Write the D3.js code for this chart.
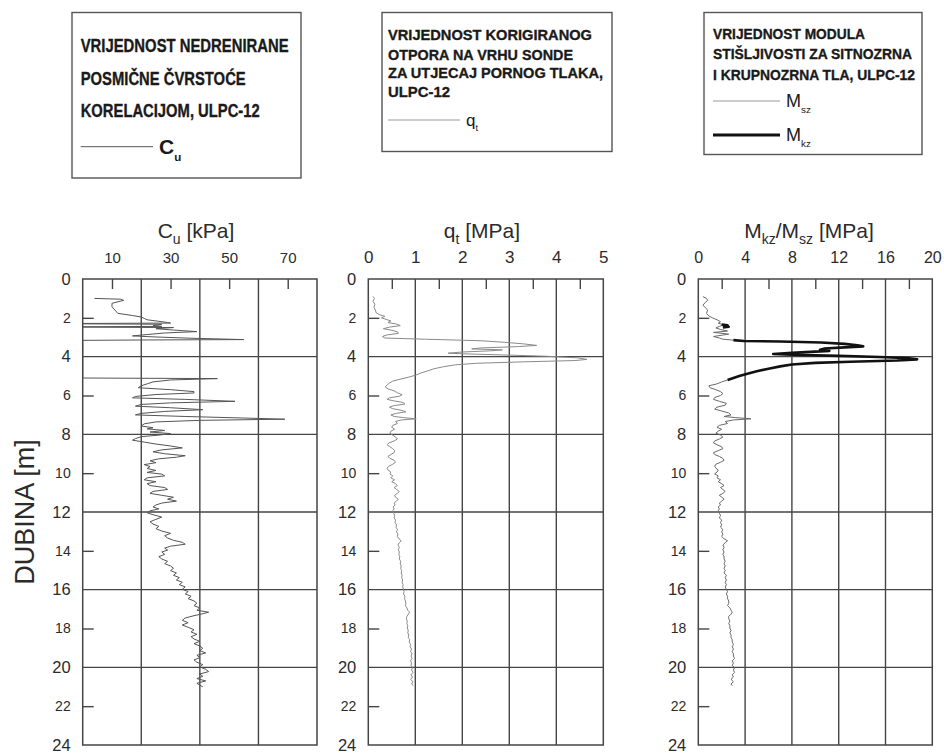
<!DOCTYPE html>
<html>
<head>
<meta charset="utf-8">
<script src="https://cdn.jsdelivr.net/npm/d3@7"></script>
<style>
  body { margin: 0; background: #fff; }
  svg { display: block; }
</style>
</head>
<body>
<div id="chart"></div>
<script>
// Depth axis (m)
const depthLabels = [0, 2, 4, 6, 8, 10, 12, 14, 16, 18, 20, 22, 24];
const depthMinorTicks = [2, 6, 10, 14, 18, 22];
const depthGrid = [4, 8, 12, 16, 20];

// Top axes
const cuLabels = [10, 30, 50, 70];
const cuTicks = [10, 30, 50, 70];
const cuGrid = [20, 40, 60];
const qtLabels = [0, 1, 2, 3, 4, 5];
const qtTicks = [0.5, 1.5, 2.5, 3.5, 4.5];
const qtGrid = [1, 2, 3, 4];
const mLabels = [0, 4, 8, 12, 16, 20];
const mTicks = [2, 6, 10, 14, 18];
const mGrid = [4, 8, 12, 16];

// Legend texts
const cuLegendLines = ["VRIJEDNOST NEDRENIRANE", "POSMIČNE ČVRSTOĆE", "KORELACIJOM, ULPC-12"];
const qtLegendLines = ["VRIJEDNOST KORIGIRANOG", "OTPORA NA VRHU SONDE", "ZA UTJECAJ PORNOG TLAKA,", "ULPC-12"];
const mLegendLines = ["VRIJEDNOST MODULA", "STIŠLJIVOSTI ZA SITNOZRNA", "I KRUPNOZRNA TLA, ULPC-12"];

// [depth m, Cu kPa]
const cuProfile = [
  [1.00,4],[1.04,13],[1.10,14],[1.25,10],[1.43,10],[1.60,11],[1.77,12],[1.88,17],[1.96,20],[2.03,21],
  [2.10,22],[2.18,26],[2.24,29],[2.27,30],[2.29,0],[2.31,0],[2.33,27],[2.40,24],[2.44,27],[2.46,0],
  [2.48,0],[2.50,31],[2.56,25],[2.63,31],[2.71,39],[2.78,28],[2.86,22],[2.93,17],[2.98,24],[3.05,37],
  [3.12,55],[3.14,22],[3.16,0],[5.10,0],[5.13,46],[5.20,30],[5.30,24],[5.40,22],[5.50,20],[5.60,19],
  [5.70,30],[5.80,38],[5.87,38],[5.95,25],[6.05,18],[6.12,17],[6.20,35],[6.30,52],[6.38,30],[6.46,20],
  [6.55,18],[6.63,30],[6.73,41],[6.82,28],[6.92,20],[7.00,18],[7.08,35],[7.16,55],[7.22,69],[7.28,40],
  [7.36,25],[7.46,21],[7.57,20],[7.66,24],[7.72,22],[7.80,28],[7.88,23],[7.96,30],[8.04,26],[8.12,20],
  [8.22,18],[8.30,17],[8.40,21],[8.50,25],[8.60,30],[8.70,34],[8.80,27],[8.90,24],
  [9.00,28],[9.10,35],[9.18,32],[9.26,26],[9.36,23],[9.46,25],[9.56,21],[9.66,23],[9.76,22],[9.86,25],
  [9.96,22],[10.05,27],[10.14,28],[10.24,22],[10.34,21],[10.44,25],[10.54,22],[10.64,23],[10.74,28],[10.84,29],
  [10.94,24],[11.04,23],[11.14,27],[11.24,31],[11.34,29],[11.44,32],[11.54,27],[11.64,25],[11.74,24],[11.84,26],
  [11.94,23],[12.04,22],[12.14,24],[12.26,27],[12.38,25],[12.50,23],[12.62,24],[12.74,26],[12.86,25],[12.98,27],
  [13.10,30],[13.22,28],[13.34,29],[13.46,31],[13.56,34],[13.66,35],[13.76,30],[13.86,28],[13.96,29],[14.06,27],
  [14.18,28],[14.30,26],[14.42,27],[14.54,29],[14.66,28],[14.78,30],[14.90,31],[15.02,30],[15.14,32],[15.26,31],
  [15.38,33],[15.50,32],[15.62,34],[15.74,33],[15.86,35],[15.98,34],[16.10,36],[16.22,35],[16.34,37],[16.46,36],
  [16.58,38],[16.70,39],[16.82,38],[16.94,40],[17.06,39],[17.16,43],[17.24,41],[17.34,38],[17.46,35],[17.58,34],
  [17.70,36],[17.82,34],[17.94,36],[18.06,38],[18.18,37],[18.30,39],[18.42,37],[18.54,38],[18.66,40],[18.78,38],
  [18.90,40],[19.02,41],[19.14,40],[19.26,42],[19.38,39],[19.50,40],[19.62,38],[19.74,39],[19.86,41],[19.98,40],
  [20.10,42],[20.22,43],[20.34,40],[20.46,41],[20.58,39],[20.70,42],[20.82,39],[20.92,40],[21.00,41]
];

// [depth m, qt MPa]
const qtProfile = [
  [0.90,0.10],[1.00,0.13],[1.15,0.10],[1.30,0.14],[1.45,0.12],[1.60,0.15],[1.75,0.17],[1.85,0.25],[1.92,0.35],[2.00,0.28],
  [2.08,0.38],[2.16,0.48],[2.24,0.42],[2.32,0.60],[2.40,0.68],[2.48,0.45],[2.56,0.32],[2.64,0.50],[2.72,0.62],[2.80,0.64],
  [2.88,0.40],[2.96,0.30],[3.04,0.35],[3.10,1.20],[3.18,2.40],[3.26,2.90],[3.34,3.30],[3.42,3.58],[3.48,3.20],[3.55,2.40],
  [3.60,2.20],[3.65,2.85],[3.70,2.60],[3.76,2.00],[3.82,1.70],[3.86,2.10],[3.92,3.00],[3.98,3.80],[4.06,4.45],[4.14,4.65],
  [4.20,4.40],[4.26,3.40],[4.34,2.30],[4.42,1.85],[4.52,1.60],[4.62,1.40],[4.74,1.25],[4.86,1.10],[4.96,1.00],[5.06,0.85],
  [5.16,0.68],[5.26,0.52],[5.36,0.45],[5.46,0.40],[5.56,0.36],[5.66,0.42],[5.76,0.55],[5.86,0.62],[5.96,0.72],[6.04,0.66],
  [6.12,0.45],[6.20,0.40],[6.28,0.55],[6.36,0.74],[6.44,0.78],[6.52,0.55],[6.60,0.45],[6.68,0.52],[6.76,0.70],[6.84,0.80],
  [6.92,0.60],[7.00,0.48],[7.08,0.55],[7.14,0.75],[7.20,1.02],[7.26,0.70],[7.34,0.58],[7.44,0.62],[7.54,0.52],[7.64,0.50],
  [7.74,0.56],[7.84,0.48],[7.94,0.46],[8.04,0.52],[8.14,0.58],[8.24,0.62],[8.34,0.55],[8.44,0.44],[8.54,0.40],[8.64,0.46],
  [8.74,0.52],[8.84,0.56],[8.94,0.55],[9.04,0.48],[9.14,0.42],[9.24,0.46],[9.34,0.55],[9.44,0.58],[9.54,0.52],[9.64,0.44],
  [9.74,0.40],[9.84,0.42],[9.94,0.48],[10.04,0.46],[10.14,0.52],[10.24,0.48],[10.34,0.56],[10.44,0.50],[10.54,0.58],[10.64,0.62],
  [10.74,0.55],[10.84,0.60],[10.94,0.66],[11.04,0.62],[11.14,0.56],[11.24,0.58],[11.34,0.64],[11.44,0.60],[11.54,0.55],[11.64,0.57],
  [11.74,0.53],[11.84,0.55],[11.94,0.52],[12.06,0.54],[12.18,0.56],[12.30,0.55],[12.42,0.58],[12.54,0.57],[12.66,0.60],[12.78,0.59],
  [12.90,0.62],[13.02,0.60],[13.14,0.63],[13.26,0.62],[13.38,0.65],[13.48,0.70],[13.58,0.66],[13.70,0.63],[13.82,0.66],[13.94,0.64],
  [14.06,0.66],[14.18,0.65],[14.30,0.67],[14.42,0.66],[14.54,0.69],[14.66,0.68],[14.78,0.70],[14.90,0.69],[15.02,0.71],[15.14,0.70],
  [15.26,0.72],[15.38,0.71],[15.50,0.73],[15.62,0.72],[15.74,0.74],[15.86,0.73],[15.98,0.75],[16.10,0.76],[16.22,0.75],[16.34,0.78],
  [16.46,0.77],[16.58,0.79],[16.70,0.80],[16.82,0.79],[16.94,0.82],[17.06,0.84],[17.16,0.88],[17.26,0.85],[17.38,0.82],[17.50,0.81],
  [17.62,0.83],[17.74,0.82],[17.86,0.84],[17.98,0.83],[18.10,0.85],[18.22,0.84],[18.34,0.86],[18.46,0.85],[18.58,0.88],[18.70,0.87],
  [18.82,0.90],[18.94,0.89],[19.06,0.92],[19.18,0.90],[19.30,0.93],[19.42,0.91],[19.54,0.93],[19.66,0.90],[19.78,0.92],[19.90,0.91],
  [20.02,0.94],[20.14,0.92],[20.26,0.95],[20.38,0.91],[20.50,0.94],[20.62,0.90],[20.74,0.95],[20.86,0.92],[20.94,0.96]
];

// [depth m, Msz MPa] - fine grained, upper and lower part
const mszUpper = [
  [0.91,0.4],[1.00,0.7],[1.10,0.8],[1.20,0.6],[1.35,0.4],[1.48,0.6],[1.60,0.8],[1.77,0.7],[1.90,0.9],[2.00,1.2],
  [2.10,1.6],[2.20,1.9],[2.28,1.7],[2.36,2.2],[2.44,1.8],[2.52,1.5],[2.60,1.9],[2.68,2.5],[2.75,1.3],[2.84,2.6],
  [2.96,1.3],[3.04,1.8],[3.10,2.1],[3.15,3.0]
];
const mszLower = [
  [5.20,2.5],[5.30,2.0],[5.40,1.6],[5.50,0.9],[5.60,1.0],[5.70,1.5],[5.80,1.9],[5.90,2.1],[6.00,1.9],[6.10,1.4],
  [6.20,1.3],[6.30,1.8],[6.40,2.4],[6.50,2.3],[6.60,1.6],[6.70,1.4],[6.80,2.0],[6.90,2.6],[7.00,2.8],[7.08,2.2],
  [7.14,3.2],[7.20,4.5],[7.26,3.0],[7.34,2.3],[7.44,2.5],[7.54,1.8],[7.64,1.6],[7.74,2.0],[7.84,1.7],[7.94,1.5],
  [8.04,1.9],[8.14,2.1],[8.24,1.8],[8.34,1.4],[8.44,1.3],[8.54,1.6],[8.64,2.0],[8.74,2.1],[8.84,1.7],[8.94,1.3],
  [9.04,1.4],[9.14,1.8],[9.24,2.1],[9.34,2.2],[9.44,1.9],[9.54,1.5],[9.64,1.4],[9.74,1.5],[9.84,1.7],[9.94,1.6],
  [10.04,1.4],[10.14,1.7],[10.24,1.6],[10.34,1.9],[10.44,1.7],[10.54,2.0],[10.64,2.2],[10.74,1.9],[10.84,2.1],[10.94,2.3],
  [11.04,2.1],[11.14,1.8],[11.24,2.0],[11.34,2.2],[11.44,2.0],[11.54,1.8],[11.64,1.9],[11.74,1.7],[11.84,1.8],[11.94,1.7],
  [12.06,1.8],[12.18,1.9],[12.30,1.8],[12.42,2.0],[12.54,1.9],[12.66,2.0],[12.78,1.9],[12.90,2.1],[13.02,2.0],[13.14,2.1],
  [13.26,2.0],[13.38,2.2],[13.48,2.5],[13.58,2.3],[13.70,2.1],[13.82,2.2],[13.94,2.1],[14.06,2.2],[14.18,2.1],[14.30,2.2],
  [14.42,2.2],[14.54,2.3],[14.66,2.2],[14.78,2.3],[14.90,2.2],[15.02,2.3],[15.14,2.2],[15.26,2.4],[15.38,2.3],[15.50,2.4],
  [15.62,2.3],[15.74,2.4],[15.86,2.3],[15.98,2.4],[16.10,2.5],[16.22,2.4],[16.34,2.5],[16.46,2.5],[16.58,2.6],[16.70,2.6],
  [16.82,2.5],[16.94,2.7],[17.06,2.8],[17.16,2.9],[17.26,2.8],[17.38,2.6],[17.50,2.6],[17.62,2.7],[17.74,2.6],[17.86,2.7],
  [17.98,2.7],[18.10,2.8],[18.22,2.7],[18.34,2.8],[18.46,2.8],[18.58,2.9],[18.70,2.9],[18.82,3.0],[18.94,2.9],[19.06,3.0],
  [19.18,2.9],[19.30,3.0],[19.42,3.0],[19.54,3.1],[19.66,2.9],[19.78,3.0],[19.90,2.9],[20.02,3.1],[20.14,3.0],[20.26,3.1],
  [20.38,2.9],[20.50,3.0],[20.62,2.8],[20.74,3.0],[20.86,2.8],[20.94,2.9]
];

// [depth m, Mkz MPa] - coarse grained
const mkzThin = [
  [2.34,2.0],[2.38,2.5],[2.42,2.2],[2.46,2.6],[2.50,2.1]
];
const mkzMain = [
  [3.15,3.0],[3.19,3.9],[3.22,7.0],[3.27,10.5],[3.34,12.5],[3.42,13.6],[3.47,14.1],[3.52,12.5],[3.58,10.8],[3.64,10.4],
  [3.70,11.2],[3.74,10.0],[3.80,8.0],[3.86,6.4],[3.90,8.0],[3.96,12.0],[4.02,15.5],[4.08,18.0],[4.14,18.7],[4.20,17.0],
  [4.26,13.0],[4.32,10.0],[4.40,8.0],[4.50,7.0],[4.62,6.0],[4.75,5.0],[4.88,4.2],[5.00,3.5],[5.10,3.0],[5.20,2.5]
];

const width = 944, height = 755;
const plotTop = 279, plotBottom = 745;
const gridColor = "#454545";
const textColor = "#2b2b2b";
const font = "'Liberation Sans', Arial, sans-serif";
const narrow = "'Liberation Sans Narrow', 'Liberation Sans', Arial, sans-serif";

const svg = d3.select("#chart").append("svg")
  .attr("width", width)
  .attr("height", height);

const y = d3.scaleLinear().domain([0, 24]).range([plotTop, plotBottom]);

const panels = [
  { x0: 82.7, x1: 317, domain: [0, 80], labels: cuLabels, ticks: cuTicks, grid: cuGrid, labelSize: 15,
    series: [{ data: cuProfile, color: "#555", w: 1 }] },
  { x0: 368.3, x1: 603.3, domain: [0, 5], labels: qtLabels, ticks: qtTicks, grid: qtGrid, labelSize: 17,
    series: [{ data: qtProfile, color: "#8a8a8a", w: 1 }] },
  { x0: 698.3, x1: 932.3, domain: [0, 20], labels: mLabels, ticks: mTicks, grid: mGrid, labelSize: 16,
    series: [
      { data: mszUpper, color: "#6a6a6a", w: 1 },
      { data: mszLower, color: "#6a6a6a", w: 1 },
      { data: mkzThin, color: "#111", w: 2.6 },
      { data: mkzMain, color: "#111", w: 2.6 }
    ] }
];

panels.forEach(function(p) {
  const x = d3.scaleLinear().domain(p.domain).range([p.x0, p.x1]);
  const g = svg.append("g");

  // grid
  g.selectAll(".vgrid").data(p.grid).enter().append("line")
    .attr("x1", d => x(d)).attr("x2", d => x(d))
    .attr("y1", plotTop).attr("y2", plotBottom)
    .attr("stroke", gridColor).attr("stroke-width", 1.4);
  g.selectAll(".hgrid").data(depthGrid).enter().append("line")
    .attr("x1", p.x0).attr("x2", p.x1)
    .attr("y1", d => y(d)).attr("y2", d => y(d))
    .attr("stroke", gridColor).attr("stroke-width", 1.4);

  // inner ticks
  const topTicks = g.append("g")
    .attr("transform", "translate(0," + plotTop + ")")
    .call(d3.axisTop(x).tickValues(p.ticks).tickSize(-10).tickFormat(""));
  const leftTicks = g.append("g")
    .attr("transform", "translate(" + p.x0 + ",0)")
    .call(d3.axisLeft(y).tickValues(depthMinorTicks).tickSize(-11).tickFormat(""));
  [topTicks, leftTicks].forEach(function(a) {
    a.select(".domain").remove();
    a.selectAll("line").attr("stroke", gridColor).attr("stroke-width", 1.4);
  });

  // tick labels
  const topLab = g.append("g")
    .attr("transform", "translate(0," + plotTop + ")")
    .call(d3.axisTop(x).tickValues(p.labels).tickSize(0).tickPadding(16).tickFormat(d3.format("d")));
  topLab.select(".domain").remove();
  topLab.selectAll("text")
    .attr("font-family", font).attr("font-size", p.labelSize).attr("fill", textColor);

  const leftLab = g.append("g")
    .attr("transform", "translate(" + p.x0 + ",0)")
    .call(d3.axisLeft(y).tickValues(depthLabels).tickSize(0).tickPadding(12));
  leftLab.select(".domain").remove();
  leftLab.selectAll("text")
    .attr("font-family", font)
    .attr("font-size", d => d % 4 === 0 ? 16.5 : 14)
    .attr("fill", textColor);

  // curves
  const line = d3.line().x(d => x(d[1])).y(d => y(d[0]));
  p.series.forEach(function(s) {
    g.append("path")
      .datum(s.data)
      .attr("d", line)
      .attr("fill", "none")
      .attr("stroke", s.color)
      .attr("stroke-width", s.w)
      .attr("stroke-linejoin", "round");
  });

  // frame
  g.append("rect")
    .attr("x", p.x0).attr("y", plotTop)
    .attr("width", p.x1 - p.x0).attr("height", plotBottom - plotTop)
    .attr("fill", "none").attr("stroke", gridColor).attr("stroke-width", 1.5);
});

// panel titles
function title(cx, parts) {
  const t = svg.append("text")
    .attr("x", cx).attr("y", 238)
    .attr("text-anchor", "middle")
    .attr("font-family", font).attr("font-size", 21).attr("fill", textColor);
  let shifted = false;
  parts.forEach(function(part) {
    const ts = t.append("tspan").text(part.t);
    if (part.sub) {
      ts.attr("font-size", 14).attr("dy", shifted ? 0 : 6);
      shifted = true;
    } else {
      ts.attr("dy", shifted ? -6 : 0);
      shifted = false;
    }
  });
}
title(196, [{ t: "C" }, { t: "u", sub: true }, { t: " [kPa]" }]);
title(482, [{ t: "q" }, { t: "t", sub: true }, { t: " [MPa]" }]);
title(809, [{ t: "M" }, { t: "kz", sub: true }, { t: "/M" }, { t: "sz", sub: true }, { t: " [MPa]" }]);

// depth label
svg.append("text")
  .attr("transform", "translate(33.5,512) rotate(-90)")
  .attr("text-anchor", "middle")
  .attr("font-family", font).attr("font-size", 27).attr("fill", textColor)
  .text("DUBINA [m]");

// legend boxes
function legendBox(bx, by, bw, bh, lines, tx, baselines, widths, size) {
  svg.append("rect")
    .attr("x", bx).attr("y", by).attr("width", bw).attr("height", bh)
    .attr("fill", "#fff").attr("stroke", "#555").attr("stroke-width", 1.4);
  lines.forEach(function(s, i) {
    svg.append("text")
      .attr("x", tx).attr("y", baselines[i])
      .attr("font-family", narrow).attr("font-weight", "bold")
      .attr("font-size", size).attr("fill", "#1a1a1a")
      .attr("stroke", "#1a1a1a").attr("stroke-width", 0.35)
      .attr("textLength", widths[i]).attr("lengthAdjust", "spacingAndGlyphs")
      .text(s);
  });
}
function legendKey(x1, x2, ly, color, w, main, sub, size, bold) {
  svg.append("line")
    .attr("x1", x1).attr("x2", x2).attr("y1", ly).attr("y2", ly)
    .attr("stroke", color).attr("stroke-width", w);
  const t = svg.append("text")
    .attr("x", x2 + 6).attr("y", ly + size * 0.36)
    .attr("font-family", narrow).attr("font-size", size)
    .attr("font-weight", bold ? "bold" : "normal").attr("fill", "#1a1a1a");
  t.append("tspan").text(main);
  t.append("tspan").attr("font-size", size * 0.55).attr("dy", size * 0.3).text(sub);
}

legendBox(72, 12.5, 229, 165.5, cuLegendLines, 80.7, [51.7, 85, 116.7], [208, 165, 179], 18.5);
legendKey(80.7, 153, 146.7, "#555", 1, "C", "u", 21, true);

legendBox(382, 12.5, 230, 139, qtLegendLines, 388, [40, 60, 78.3, 96.7], [204, 185, 215, 62], 15.5);
legendKey(388, 460, 120, "#999", 1, "q", "t", 17, false);

legendBox(704, 12.5, 218, 142, mLegendLines, 713, [39.3, 59.3, 80], [152, 199, 202], 15.5);
legendKey(713, 780, 101, "#999", 1, "M", "sz", 18, false);
legendKey(713, 780, 135, "#111", 3, "M", "kz", 18, false);
</script>
</body>
</html>
